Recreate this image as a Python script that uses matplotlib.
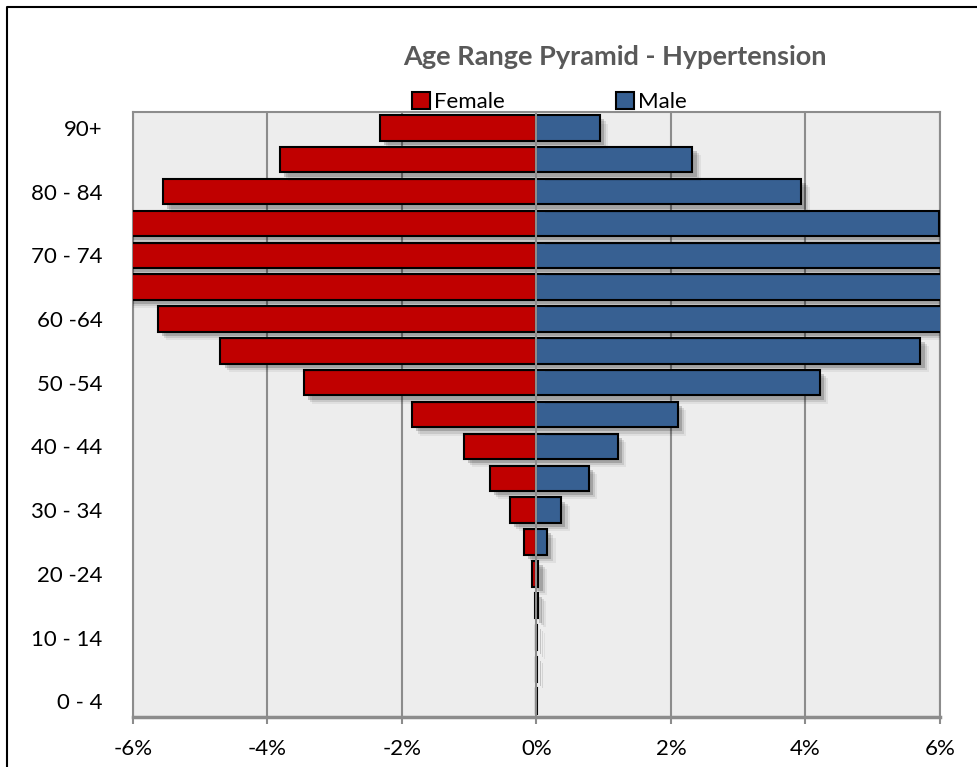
import matplotlib.pyplot as plt
import matplotlib.patheffects as pe
from matplotlib.lines import Line2D
from matplotlib.patches import Patch
import numpy as np

# age groups, bottom to top
age_groups = ['0 - 4', '5 - 9', '10 - 14', '15 - 19', '20 -24', '25 - 29',
              '30 - 34', '35 - 39', '40 - 44', '45 - 49', '50 -54', '55 - 59',
              '60 -64', '65 - 69', '70 - 74', '75 - 79', '80 - 84', '85 - 89', '90+']

# share of hypertension patients per age group, in percent
female = [0.001, 0.003, 0.01, 0.02, 0.07, 0.19, 0.39, 0.69, 1.08, 1.85,
          3.46, 4.70, 5.63, 6.9, 7.1, 6.6, 5.56, 3.82, 2.33]
male = [0.001, 0.002, 0.005, 0.02, 0.03, 0.16, 0.37, 0.78, 1.21, 2.10,
        4.21, 5.71, 6.2, 6.5, 6.8, 5.99, 3.94, 2.32, 0.94]

xticks = [-6, -4, -2, 0, 2, 4, 6]

plt.rcParams['font.family'] = ['Lato', 'DejaVu Sans']

fig = plt.figure(figsize=(9.78, 7.67), dpi=100)
ax = fig.add_axes([0.136, 0.065, 0.825, 0.789])
ax.set_facecolor('#ededed')

y = np.arange(len(age_groups))
# soft drop shadow under each bar
shadow = [pe.SimplePatchShadow(offset=(6, -6), shadow_rgbFace='black', alpha=0.06),
          pe.SimplePatchShadow(offset=(4.5, -4.5), shadow_rgbFace='black', alpha=0.10),
          pe.SimplePatchShadow(offset=(3, -3), shadow_rgbFace='black', alpha=0.18),
          pe.Normal()]

fb = ax.barh(y, -np.array(female), height=0.8, color='#c00000',
             edgecolor='black', linewidth=1.5, zorder=3, label='Female')
mb = ax.barh(y, male, height=0.8, color='#376092',
             edgecolor='black', linewidth=1.5, zorder=3, label='Male')
for bar in list(fb) + list(mb):
    bar.set_path_effects(shadow)

ax.set_xlim(-6, 6)
ax.set_ylim(-0.5, len(age_groups) - 0.5)

for x in xticks:
    ax.axvline(x, color='#8c8c8c', linewidth=1.5, zorder=1 if x != 0 else 5)

ax.set_xticks(xticks)
ax.set_xticklabels(['{}%'.format(x) for x in xticks])
ax.set_yticks(y[::2])
ax.set_yticklabels(age_groups[::2])
ax.tick_params(axis='x', length=5, width=1.5, color='#8c8c8c', labelsize=16, pad=11)
ax.tick_params(axis='y', length=0, labelsize=16, pad=22)
for s in ax.spines.values():
    s.set_color('#8c8c8c')
    s.set_linewidth(1.5)
ax.spines['bottom'].set_linewidth(2.5)

fig.text(0.629, 0.926, 'Age Range Pyramid - Hypertension', ha='center', va='center',
         fontsize=19.5, fontweight='bold', color='#595959')

handles = [Patch(facecolor='#c00000', edgecolor='black', linewidth=1.5, label='Female'),
           Patch(facecolor='#376092', edgecolor='black', linewidth=1.5, label='Male')]
fig.legend(handles=handles, loc='center', bbox_to_anchor=(0.562, 0.867), ncol=2,
           frameon=False, fontsize=16, handlelength=0.8, handleheight=0.8,
           handletextpad=0.2, columnspacing=5.0, borderaxespad=0)

# outer chart frame
fig.add_artist(Line2D([0.007, 0.007, 1.0], [0.0, 0.991, 0.991],
                      transform=fig.transFigure, color='black', linewidth=1.5))

fig.savefig('out.png', dpi=100)
